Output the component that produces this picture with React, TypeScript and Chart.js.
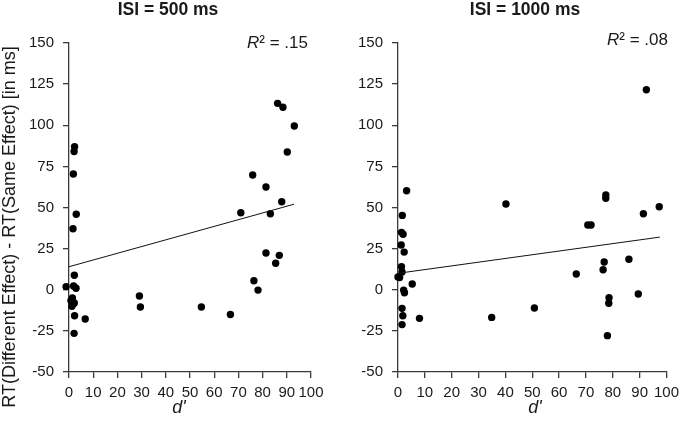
import React, { useEffect, useRef } from "react";
import { Chart, registerables } from "chart.js";

Chart.register(...registerables);

// ISI = 500 ms
const leftD = [86.2, 88.4, 93.1, 90.2, 75.9, 81.4, 87.9, 71.0, 83.2, 2.3, 2.1, 1.8, 3.0, 1.65, 2.2, -1.2, 1.9, 2.9, 0.8, 1.4, 1.8, 1.2, 2.2, 2.3, 2.1, 6.7, 29.1, 29.5, 54.7, 66.7, 76.4, 78.1, 81.4, 86.9, 85.4];
const leftRT = [113.3, 110.9, 99.5, 83.7, 69.8, 62.5, 53.5, 46.8, 46.2, 87, 84, 70.4, 45.9, 37.1, 8.8, 1.9, 2.3, 0.9, -6.6, -5, -8.5, -10, -8, -15.8, -26.5, -17.8, -3.8, -10.5, -10.5, -15, 5.5, -0.2, 22.3, 20.9, 16.1];
const leftFitD = [0, 93];
const leftFitRT = [14, 52];

// ISI = 1000 ms
const rightD = [92.5, 3.2, 40.2, 77.4, 77.4, 97.3, 91.4, 1.6, 1.3, 1.9, 1.2, 2.3, 1.3, 1.5, 0, 0.6, 5.3, 2.1, 2.4, 1.5, 1.8, 1.5, 8.0, 34.9, 50.8, 66.4, 70.7, 71.9, 76.8, 76.4, 86.0, 89.5, 78.6, 78.5, 78.0];
const rightRT = [121.6, 60.2, 52.1, 57.6, 55.6, 50.5, 46.2, 45.2, 34.9, 33.7, 27.2, 22.9, 14, 10.8, 7.8, 7.4, 3.5, -0.2, -1.8, -11.3, -15.8, -21.2, -17.4, -16.8, -11.1, 9.6, 39.4, 39.4, 16.9, 12.2, 18.5, -2.6, -4.8, -8.2, -27.9];
const rightFitD = [0, 97.5];
const rightFitRT = [10, 32];

const xTicks = { min: 0, max: 100, step: 10 };
const yTicks = { min: -50, max: 150, step: 25 };

const FONT = "'Liberation Sans', Arial, sans-serif";
const INK = "#1a1a1a";
const AXIS = "#3a3a3a";

type PanelProps = {
  d: number[];
  rt: number[];
  fitD: number[];
  fitRT: number[];
  title: string;
  r2: string;
  yTitle?: string;
  width: number;
  yAxisWidth: number;
  padRight: number;
  titleX: number;
  xTitleX: number;
  r2Right: number;
  r2Y: number;
};

function Panel(p: PanelProps) {
  const ref = useRef<HTMLCanvasElement | null>(null);
  useEffect(() => {
    if (!ref.current) return;
    const textPlugin = {
      id: "panelText",
      afterDraw(chart: any) {
        const ctx = chart.ctx as CanvasRenderingContext2D;
        ctx.save();
        ctx.fillStyle = INK;
        // title
        ctx.font = `bold 17.5px ${FONT}`;
        ctx.textAlign = "center";
        ctx.textBaseline = "middle";
        ctx.fillText(p.title, p.titleX, 10);
        // x title
        ctx.font = `italic 18px ${FONT}`;
        ctx.fillText("d'", p.xTitleX, 408);
        // R²
        ctx.font = `17px ${FONT}`;
        const rest = "² = " + p.r2;
        const wRest = ctx.measureText(rest).width;
        ctx.font = `italic 17px ${FONT}`;
        const wR = ctx.measureText("R").width;
        const x0 = p.r2Right - wRest - wR;
        ctx.textAlign = "left";
        ctx.fillText("R", x0, p.r2Y);
        ctx.font = `17px ${FONT}`;
        ctx.fillText(rest, x0 + wR, p.r2Y);
        // y title
        if (p.yTitle) {
          ctx.translate(10, 227);
          ctx.rotate(-Math.PI / 2);
          ctx.textAlign = "center";
          ctx.font = `18px ${FONT}`;
          ctx.fillText(p.yTitle, 0, 0);
        }
        ctx.restore();
      },
    };
    const chart = new Chart(ref.current, {
      type: "scatter",
      data: {
        datasets: [
          {
            type: "line",
            data: p.fitD.map((x, i) => ({ x, y: p.fitRT[i] })),
            borderColor: "#111",
            borderWidth: 1,
            pointRadius: 0,
            fill: false,
          } as any,
          {
            data: p.d.map((x, i) => ({ x, y: p.rt[i] })),
            backgroundColor: "#000",
            borderWidth: 0,
            pointRadius: 3.7,
            clip: false,
          } as any,
        ],
      },
      options: {
        animation: false,
        responsive: false,
        layout: { padding: { top: 43, right: p.padRight, bottom: 0, left: 0 } },
        plugins: { legend: { display: false }, tooltip: { enabled: false }, title: { display: false } },
        scales: {
          x: {
            type: "linear",
            min: xTicks.min,
            max: xTicks.max,
            grid: { display: true, drawOnChartArea: false, drawTicks: true, tickLength: 6, color: AXIS, lineWidth: 1.3 },
            border: { display: true, color: AXIS, width: 1.3 },
            ticks: { stepSize: xTicks.step, color: INK, font: { family: FONT, size: 15 }, padding: 6, maxRotation: 0, autoSkip: false },
            afterFit: (s: any) => { s.height = 53; },
          },
          y: {
            type: "linear",
            min: yTicks.min,
            max: yTicks.max,
            grid: { display: true, drawOnChartArea: false, drawTicks: true, tickLength: 6, color: AXIS, lineWidth: 1.3 },
            border: { display: true, color: AXIS, width: 1.3 },
            ticks: { stepSize: yTicks.step, color: INK, font: { family: FONT, size: 15 }, padding: 9 },
            afterFit: (s: any) => { s.width = p.yAxisWidth; },
          },
        },
      },
      plugins: [textPlugin],
    } as any);
    return () => chart.destroy();
  }, []);
  return <canvas ref={ref} width={p.width} height={425} style={{ display: "block", width: p.width, height: 425 }} />;
}

export default function App() {
  return (
    <div style={{ position: "absolute", left: 0, top: 0, width: 685, height: 425, background: "#fff", display: "flex" }}>
      <Panel
        d={leftD}
        rt={leftRT}
        fitD={leftFitD}
        fitRT={leftFitRT}
        title="ISI = 500 ms"
        r2=".15"
        yTitle="RT(Different Effect) - RT(Same Effect) [in ms]"
        width={340}
        yAxisWidth={69}
        padRight={29}
        titleX={168}
        xTitleX={179}
        r2Right={308}
        r2Y={43}
      />
      <Panel
        d={rightD}
        rt={rightRT}
        fitD={rightFitD}
        fitRT={rightFitRT}
        title="ISI = 1000 ms"
        r2=".08"
        width={345}
        yAxisWidth={58}
        padRight={13}
        titleX={185}
        xTitleX={195}
        r2Right={328}
        r2Y={40}
      />
    </div>
  );
}
